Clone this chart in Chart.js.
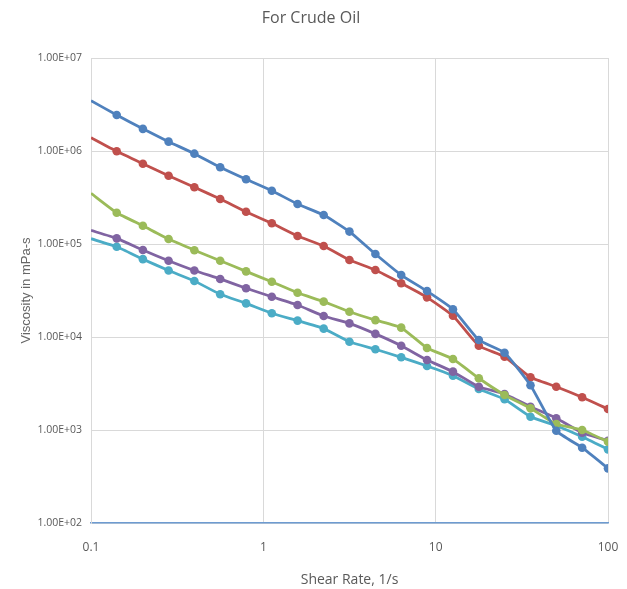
<!DOCTYPE html>
<html>
<head>
<meta charset="utf-8">
<script src="https://cdn.jsdelivr.net/npm/chart.js@4.4.1/dist/chart.umd.min.js"></script>
<style>
  body { margin: 0; background: #fff; }
  #wrap { width: 627px; height: 589px; }
</style>
</head>
<body>
<div id="wrap"><canvas id="myChart" width="627" height="589"></canvas></div>
<script>
// shear rate, 1/s
const shearRate = [0.1, 0.141, 0.2, 0.282, 0.398, 0.562, 0.794, 1.12, 1.58, 2.24, 3.16,
    4.47, 6.31, 8.91, 12.6, 17.8, 25.1, 35.5, 50.1, 70.8, 100];

// viscosity, mPa-s
const seriesBlue = [3.47e6, 2.44e6, 1.73e6, 1.26e6, 9.36e5, 6.68e5, 4.96e5, 3.74e5, 2.69e5, 2.05e5, 1.36e5,
    7.80e4, 4.64e4, 3.12e4, 1.99e4, 9.29e3, 6.78e3, 3.03e3, 9.82e2, 6.45e2, 3.87e2];
const seriesRed = [1.39e6, 9.93e5, 7.30e5, 5.42e5, 4.07e5, 3.05e5, 2.22e5, 1.67e5, 1.22e5, 9.51e4, 6.73e4,
    5.25e4, 3.78e4, 2.67e4, 1.69e4, 8.05e3, 6.14e3, 3.69e3, 2.92e3, 2.25e3, 1.68e3];
const seriesGreen = [3.51e5, 2.17e5, 1.57e5, 1.13e5, 8.58e4, 6.61e4, 5.08e4, 3.92e4, 2.99e4, 2.40e4, 1.87e4,
    1.52e4, 1.26e4, 7.62e3, 5.80e3, 3.60e3, 2.38e3, 1.71e3, 1.16e3, 1.00e3, 7.48e2];
const seriesPurple = [1.40e5, 1.15e5, 8.61e4, 6.61e4, 5.19e4, 4.21e4, 3.34e4, 2.71e4, 2.21e4, 1.68e4, 1.40e4,
    1.08e4, 8.05e3, 5.66e3, 4.24e3, 2.92e3, 2.44e3, 1.78e3, 1.34e3, 9.35e2, 7.67e2];
const seriesCyan = [1.14e5, 9.35e4, 6.87e4, 5.19e4, 4.00e4, 2.88e4, 2.30e4, 1.80e4, 1.50e4, 1.23e4, 8.89e3,
    7.38e3, 6.05e3, 4.88e3, 3.84e3, 2.76e3, 2.14e3, 1.39e3, 1.11e3, 8.47e2, 6.19e2];

const xTicks = [0.1, 1, 10, 100];
const xTickLabels = ['0.1', '1', '10', '100'];
const yTicks = [1e2, 1e3, 1e4, 1e5, 1e6, 1e7];
const yTickLabels = ['1.00E+02', '1.00E+03', '1.00E+04', '1.00E+05', '1.00E+06', '1.00E+07'];

const narrow = "'Open Sans', sans-serif";

function makeSet(values, color) {
    return {
        data: values.map((v, i) => ({ x: shearRate[i], y: v })),
        borderColor: color,
        backgroundColor: color,
        borderWidth: 2.8,
        pointRadius: values.map((v, i) => i === 0 ? 0 : 4.3),
        pointHoverRadius: 4.3,
        pointBorderWidth: 0,
        tension: 0.15,
        fill: false
    };
}

const ctx = document.getElementById('myChart');

new Chart(ctx, {
    type: 'line',
    data: {
        datasets: [
            makeSet(seriesBlue, '#4f81bd'),
            makeSet(seriesRed, '#c0504d'),
            makeSet(seriesGreen, '#9bbb59'),
            makeSet(seriesPurple, '#8064a2'),
            makeSet(seriesCyan, '#4bacc6')
        ]
    },
    options: {
        responsive: false,
        animation: false,
        layout: { padding: { left: 14, right: 19, top: 0, bottom: 0 } },
        plugins: {
            legend: { display: false },
            tooltip: { enabled: false },
            title: {
                display: true,
                text: 'For Crude Oil',
                color: '#595959',
                font: { family: narrow, size: 16, weight: 'normal' },
                padding: { top: 9, bottom: 29.8 }
            }
        },
        scales: {
            x: {
                type: 'logarithmic',
                min: 0.1,
                max: 100,
                afterBuildTicks: (scale) => { scale.ticks = xTicks.map(v => ({ value: v })); },
                afterFit: (scale) => { scale.height = 66; },
                ticks: {
                    color: '#595959',
                    font: { family: narrow, size: 12 },
                    padding: 3,
                    autoSkip: false,
                    maxRotation: 0,
                    callback: (v) => xTickLabels[xTicks.indexOf(v)]
                },
                grid: { color: '#d9d9d9', drawTicks: true, tickLength: 14, tickColor: 'rgba(0,0,0,0)' },
                border: { color: '#6d9bd1', width: 1.5 },
                title: {
                    display: true,
                    text: 'Shear Rate, 1/s',
                    color: '#595959',
                    font: { family: narrow, size: 14 },
                    padding: { top: 0, bottom: 1 }
                }
            },
            y: {
                type: 'logarithmic',
                min: 1e2,
                max: 1e7,
                afterBuildTicks: (scale) => { scale.ticks = yTicks.map(v => ({ value: v })); },
                afterFit: (scale) => { scale.width = 77; },
                ticks: {
                    color: '#595959',
                    font: { family: narrow, size: 10.5 },
                    padding: 9,
                    autoSkip: false,
                    callback: (v) => yTickLabels[yTicks.indexOf(v)]
                },
                grid: { color: '#d9d9d9', drawTicks: false },
                border: { color: '#d9d9d9' },
                title: {
                    display: true,
                    text: 'Viscosity in mPa-s',
                    color: '#666666',
                    font: { family: "'Liberation Sans', Arial, sans-serif", size: 13 },
                    padding: { top: 5, bottom: 0 }
                }
            }
        }
    }
});
</script>
</body>
</html>
